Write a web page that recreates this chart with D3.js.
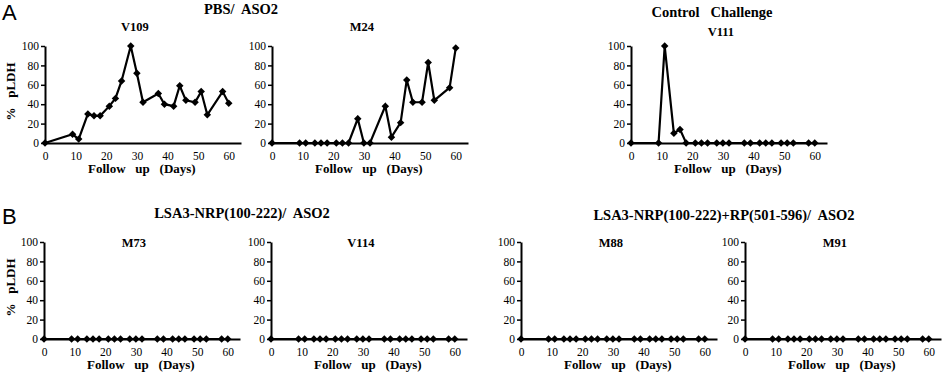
<!DOCTYPE html>
<html>
<head>
<meta charset="utf-8">
<script src="https://cdn.jsdelivr.net/npm/d3@7"></script>
<style>
  body { margin: 0; background: #fff; }
  svg { display: block; }
  text { font-family: "Liberation Serif", "Times New Roman", serif; fill: #000; }
  .bold { font-weight: bold; white-space: pre; }
  .letter { font-family: "Liberation Sans", Arial, sans-serif; font-size: 22px; }
</style>
</head>
<body>
<div id="chart"></div>
<script>
// follow-up days (same schedule for every animal)
const days = [0, 9, 11, 14, 16, 18, 21, 23, 25, 28, 30, 32, 37, 39, 42, 44, 46, 49, 51, 53, 58, 60];

// % pLDH per animal
const v109 = [0, 9, 4, 30, 28, 28, 38, 46, 64, 100, 72, 42, 51, 40, 38, 59, 44, 42, 53, 29, 53, 41];
const m24  = [0, 0, 0, 0, 0, 0, 0, 0, 0, 25, 0, 0, 38, 6, 21, 65, 42, 42, 83, 44, 57, 98];
const v111 = [0, 0, 100, 10, 14, 0, 0, 0, 0, 0, 0, 0, 0, 0, 0, 0, 0, 0, 0, 0, 0, 0];
const m73  = [0, 0, 0, 0, 0, 0, 0, 0, 0, 0, 0, 0, 0, 0, 0, 0, 0, 0, 0, 0, 0, 0];
const v114 = [0, 0, 0, 0, 0, 0, 0, 0, 0, 0, 0, 0, 0, 0, 0, 0, 0, 0, 0, 0, 0, 0];
const m88  = [0, 0, 0, 0, 0, 0, 0, 0, 0, 0, 0, 0, 0, 0, 0, 0, 0, 0, 0, 0, 0, 0];
const m91  = [0, 0, 0, 0, 0, 0, 0, 0, 0, 0, 0, 0, 0, 0, 0, 0, 0, 0, 0, 0, 0, 0];

const xTicks = [0, 10, 20, 30, 40, 50, 60];
const yTicks = [0, 20, 40, 60, 80, 100];

const width = 948, height = 377;

const svg = d3.select("#chart").append("svg")
    .attr("width", width)
    .attr("height", height);

// panel layout: left edge of y axis, rows, title positions
const panels = [
    { name: "V109", values: v109, left: 45,  row: 0, titleY: 31, yLabel: true },
    { name: "M24",  values: m24,  left: 272, row: 0, titleY: 31 },
    { name: "V111", values: v111, left: 631, row: 0, titleY: 36 },
    { name: "M73",  values: m73,  left: 44,  row: 1, titleY: 247, yLabel: true },
    { name: "V114", values: v114, left: 271, row: 1, titleY: 247 },
    { name: "M88",  values: m88,  left: 521, row: 1, titleY: 247 },
    { name: "M91",  values: m91,  left: 745, row: 1, titleY: 247 }
];

const rows = [
    { bottom: 143, top: 46 },
    { bottom: 339, top: 242 }
];

const panelWidth = 196;

panels.forEach(p => {
    const r = rows[p.row];
    const x = d3.scaleLinear().domain([0, 64]).range([p.left, p.left + panelWidth]);
    const y = d3.scaleLinear().domain([0, 100]).range([r.bottom, r.top]);

    const g = svg.append("g");

    // x axis: plain line with labels, no tick marks
    const xAxis = g.append("g")
        .attr("transform", `translate(0,${r.bottom})`)
        .call(d3.axisBottom(x).tickValues(xTicks).tickSize(0).tickPadding(9))
        .attr("font-family", "Liberation Serif, Times New Roman, serif")
        .attr("font-size", 11.5);
    xAxis.select(".domain").attr("stroke-width", 2);

    const yAxis = g.append("g")
        .attr("transform", `translate(${p.left},0)`)
        .call(d3.axisLeft(y).tickValues(yTicks).tickSize(4).tickSizeOuter(0).tickPadding(2))
        .attr("font-family", "Liberation Serif, Times New Roman, serif")
        .attr("font-size", 11.5);
    yAxis.select(".domain").attr("stroke-width", 2);
    yAxis.selectAll(".tick line").attr("stroke-width", 1.5);

    const pts = days.map((d, i) => [d, p.values[i]]);

    g.append("path")
        .datum(pts)
        .attr("fill", "none")
        .attr("stroke", "#000")
        .attr("stroke-width", 2.2)
        .attr("stroke-linejoin", "miter")
        .attr("d", d3.line().x(d => x(d[0])).y(d => y(d[1])));

    const diamond = d3.symbol().type(d3.symbolSquare).size(28);
    g.selectAll(".pt")
        .data(pts)
        .join("path")
        .attr("class", "pt")
        .attr("fill", "#000")
        .attr("transform", d => `translate(${x(d[0])},${y(d[1])}) rotate(45)`)
        .attr("d", diamond);

    // animal id
    g.append("text")
        .attr("class", "bold")
        .attr("x", x(30) - 2)
        .attr("y", p.titleY)
        .attr("text-anchor", "middle")
        .style("font-size", "12.5px")
        .text(p.name);

    // x label
    g.append("text")
        .attr("class", "bold")
        .attr("x", x(30) + 5)
        .attr("y", r.bottom + 30)
        .attr("text-anchor", "middle")
        .style("font-size", "13px")
        .text("Follow   up   (Days)");

    if (p.yLabel) {
        g.append("text")
            .attr("class", "bold")
            .attr("transform", `translate(15,${(r.top + r.bottom) / 2 - 3}) rotate(-90)`)
            .attr("text-anchor", "middle")
            .style("font-size", "13px")
            .text("%   pLDH");
    }
});

// group headings
const headings = [
    { text: "A", x: 2, y: 20, cls: "letter" },
    { text: "B", x: 2, y: 224, cls: "letter" }
];
headings.forEach(h => {
    svg.append("text").attr("class", h.cls).attr("x", h.x).attr("y", h.y).text(h.text);
});

const groupTitles = [
    { text: "PBS/  ASO2", x: 241, y: 14 },
    { text: "Control   Challenge", x: 712, y: 16.5 },
    { text: "LSA3-NRP(100-222)/  ASO2", x: 242, y: 218 },
    { text: "LSA3-NRP(100-222)+RP(501-596)/  ASO2", x: 724, y: 219.5 }
];
groupTitles.forEach(t => {
    svg.append("text")
        .attr("class", "bold")
        .attr("x", t.x)
        .attr("y", t.y)
        .attr("text-anchor", "middle")
        .style("font-size", "14.5px")
        .text(t.text);
});
</script>
</body>
</html>
